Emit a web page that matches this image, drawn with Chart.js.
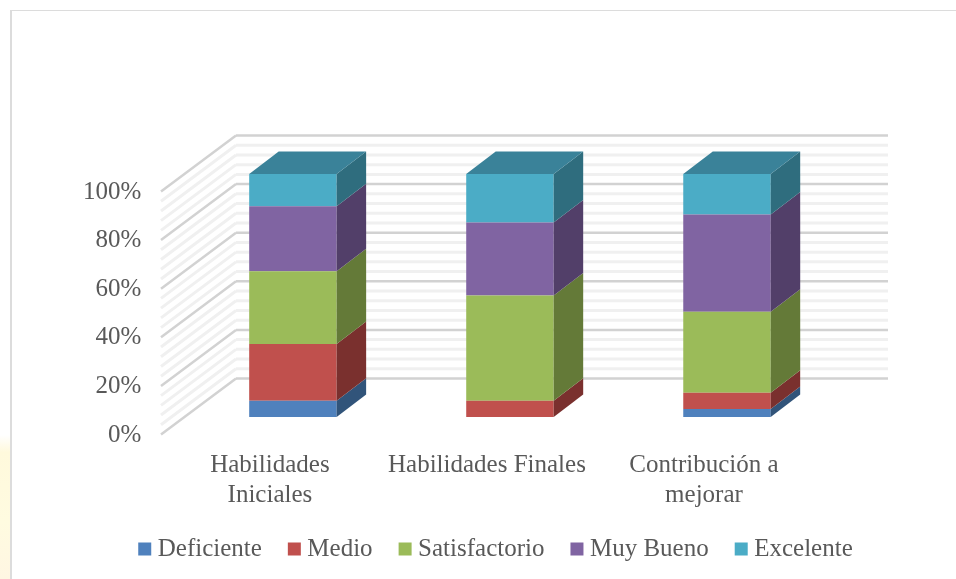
<!DOCTYPE html>
<html>
<head>
<meta charset="utf-8">
<title>Habilidades</title>
<script src="https://cdn.jsdelivr.net/npm/chart.js@4"></script>
<style>
  html, body { margin: 0; padding: 0; background: #fff; }
  #caja { position: relative; width: 956px; height: 579px; overflow: hidden; }
  #grafico { position: absolute; left: 0; top: 0; }
  /* marco del cuadro */
  #marco { position: absolute; left: 10px; top: 10px; width: 960px; height: 590px; border: solid #dcdcdc; border-width: 1px 0 0 2px; box-sizing: border-box; }
  #fondo { position: absolute; left: 0; top: 435px; width: 10px; height: 144px; background: linear-gradient(#ffffff, #fff9dc 12%, #fffbe0 60%, #fff6e2); }
</style>
</head>
<body>
<div id="caja">
  <div id="fondo"></div>
  <div id="marco"></div>
  <canvas id="grafico" width="956" height="579"></canvas>
</div>
<script>
const categorias = [["Habilidades", "Iniciales"], ["Habilidades Finales"], ["Contribución a", "mejorar"]];
const deficiente = [6.7, 0, 3.3];
const medio = [23.3, 6.7, 6.7];
const satisfactorio = [30, 43.3, 33.3];
const muyBueno = [26.7, 30, 40];
const excelente = [13.3, 20, 16.7];

const colorTexto = "#595959";
const fuente = "'Liberation Serif', serif";

// profundidad de las barras y de las paredes
const fondoBarra = { x: 29.5, y: 22.5 };
const pared = { izq: 51.6, der: 52.5, atras: 38.5, frente: 17.5, lado: 75 };

function linea(ctx, x1, y1, x2, y2) {
  ctx.beginPath();
  ctx.moveTo(x1, y1);
  ctx.lineTo(x2, y2);
  ctx.stroke();
}

function poligono(ctx, color, puntos) {
  ctx.fillStyle = color;
  ctx.beginPath();
  puntos.forEach((p, i) => i ? ctx.lineTo(p[0], p[1]) : ctx.moveTo(p[0], p[1]));
  ctx.closePath();
  ctx.fill();
}

// paredes del fondo y lateral
const paredes = {
  id: "paredes",
  // el eje x recorta sus etiquetas en su borde inferior: sin esto se corta la "j" de mejorar
  afterLayout(chart) {
    chart.scales.x.bottom = chart.height;
  },
  beforeDatasetsDraw(chart) {
    const { ctx, chartArea, scales } = chart;
    const xAtras = chartArea.left + pared.izq;
    const xFin = chartArea.right + pared.der;
    ctx.save();
    for (let v = 0; v <= 100; v += 4) {
      const y = scales.y.getPixelForValue(v);
      const mayor = v % 20 === 0;
      ctx.strokeStyle = mayor ? "#d2d2d2" : "#f0f0f0";
      ctx.lineWidth = mayor ? 2.5 : 3;
      linea(ctx, xAtras - pared.lado, y + pared.frente, xAtras, y - pared.atras);
      linea(ctx, xAtras, y - pared.atras, xFin, y - pared.atras);
    }
    ctx.restore();
  }
};

// caras lateral y superior de cada barra
const caras = {
  id: "caras",
  afterDatasetsDraw(chart) {
    const { ctx } = chart;
    const dx = fondoBarra.x, dy = fondoBarra.y;
    ctx.save();
    chart.data.datasets.forEach((ds, i) => {
      chart.getDatasetMeta(i).data.forEach((bar, j) => {
        if (ds.data[j] === 0) return;
        const der = bar.x + bar.width / 2;
        const izq = bar.x - bar.width / 2;
        poligono(ctx, ds.lateral, [[der, bar.y], [der + dx, bar.y - dy], [der + dx, bar.base - dy], [der, bar.base]]);
        if (i === chart.data.datasets.length - 1) {
          poligono(ctx, ds.tapa, [[izq, bar.y], [izq + dx, bar.y - dy], [der + dx, bar.y - dy], [der, bar.y]]);
        }
      });
    });
    ctx.restore();
  }
};

new Chart(document.getElementById("grafico"), {
  type: "bar",
  data: {
    labels: categorias,
    datasets: [
      { label: "Deficiente", data: deficiente, backgroundColor: "#4f81bd", lateral: "#31547a" },
      { label: "Medio", data: medio, backgroundColor: "#c0504d", lateral: "#7a302e" },
      { label: "Satisfactorio", data: satisfactorio, backgroundColor: "#9bbb59", lateral: "#647a38" },
      { label: "Muy Bueno", data: muyBueno, backgroundColor: "#8064a2", lateral: "#523f69" },
      { label: "Excelente", data: excelente, backgroundColor: "#4bacc6", lateral: "#2f6d7e", tapa: "#3a8299" }
    ]
  },
  options: {
    responsive: false,
    animation: false,
    layout: { padding: { left: 41, right: 0, top: 174, bottom: 7.5 } },
    datasets: { bar: { categoryPercentage: 1, barPercentage: 0.403 } },
    plugins: {
      tooltip: { enabled: false },
      legend: {
        position: "bottom",
        labels: {
          // cuadro de ancho mínimo para dejar el texto pegado al color
          usePointStyle: true, pointStyle: "rect",
          boxWidth: 1, boxHeight: 13, padding: 32, color: colorTexto,
          font: { family: fuente, size: 25 }
        }
      }
    },
    scales: {
      x: {
        stacked: true,
        grid: { display: false },
        border: { display: false },
        ticks: {
          color: colorTexto, maxRotation: 0, autoSkip: false, padding: 25, labelOffset: -23,
          font: { family: fuente, size: 25, lineHeight: "30px" }
        },
        afterFit(s) { s.height = 87.5; }
      },
      y: {
        stacked: true, min: 0, max: 100,
        grid: { display: false },
        border: { display: false },
        ticks: {
          stepSize: 20, color: colorTexto, padding: 35, labelOffset: 18,
          callback: v => v + "%",
          font: { family: fuente, size: 25 }
        },
        afterFit(s) { s.width = 143.4; }
      },
      // solo reserva el margen derecho del área de barras
      margen: {
        type: "linear", position: "right",
        grid: { display: false }, border: { display: false }, ticks: { display: false },
        afterFit(s) { s.width = 120.5; }
      }
    }
  },
  plugins: [paredes, caras]
});
</script>
</body>
</html>
